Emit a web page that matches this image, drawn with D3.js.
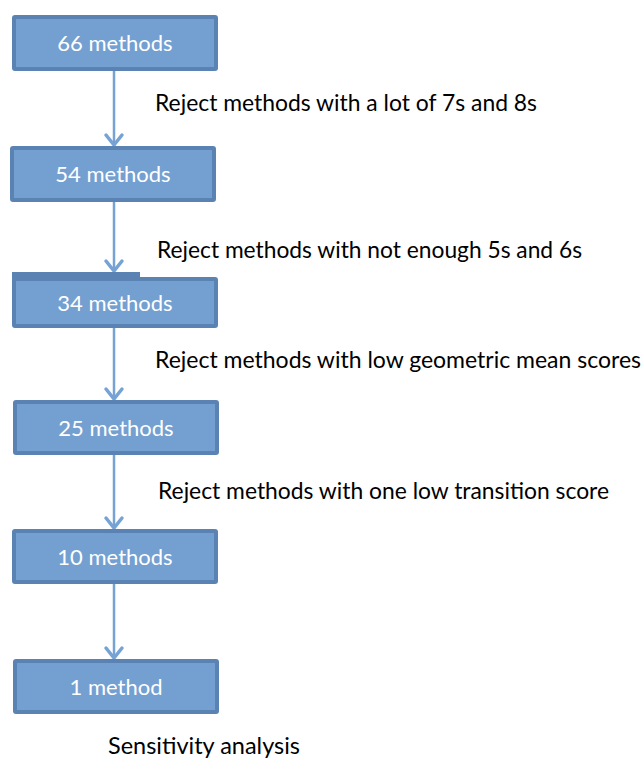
<!DOCTYPE html>
<html>
<head>
<meta charset="utf-8">
<script src="https://cdn.jsdelivr.net/npm/d3@7"></script>
<style>
  body { margin: 0; background: #fff; }
  svg { display: block; }
</style>
</head>
<body>
<svg width="643" height="760"></svg>
<script>
// steps of the selection funnel
const counts = [66, 54, 34, 25, 10, 1];
const boxLabels = ['66 methods', '54 methods', '34 methods', '25 methods', '10 methods', '1 method'];
const stepLabels = [
    'Reject methods with a lot of 7s and 8s',
    'Reject methods with not enough 5s and 6s',
    'Reject methods with low geometric mean scores',
    'Reject methods with one low transition score',
    'Sensitivity analysis'
];

const svg = d3.select('svg');
const fill = '#74a0d1', border = '#5a83b3', arrowColor = '#76a2d4';

const idx = d3.range(counts.length);
const boxTop = d3.scaleOrdinal().domain(idx).range([17, 148, 279, 402, 531, 661]);
const boxH = d3.scaleOrdinal().domain(idx).range([52, 52, 47, 51, 51, 51]);
const boxLeft = d3.scaleOrdinal().domain(idx).range([14, 12, 14, 15, 14, 15]);
const boxW = 202, cx = 114;

const labelX = d3.scaleOrdinal().domain(d3.range(stepLabels.length)).range([155, 157, 155, 158, 108]);
const labelY = d3.scaleOrdinal().domain(d3.range(stepLabels.length)).range([111, 258, 368, 499, 754]);
const labelW = d3.scaleOrdinal().domain(d3.range(stepLabels.length)).range([382, 425, 486, 451, 192]);

// arrows between boxes
const arrows = svg.append('g')
    .attr('stroke', arrowColor)
    .attr('stroke-width', 2.5)
    .attr('fill', 'none');

idx.slice(1).forEach(function (i) {
    const y0 = boxTop(i - 1) + boxH(i - 1) + 2,
        y1 = boxTop(i) - 3 - (i === 2 ? 5 : 0);
    arrows.append('line')
        .attr('x1', cx).attr('x2', cx)
        .attr('y1', y0).attr('y2', y1);
    arrows.append('path')
        .attr('stroke-width', 3.5)
        .attr('stroke-linecap', 'round')
        .attr('d', 'M' + (cx - 8) + ',' + (y1 - 10) + 'L' + cx + ',' + y1 + 'L' + (cx + 8) + ',' + (y1 - 10));
});

// boxes
const boxes = svg.append('g').selectAll('g')
    .data(idx)
    .enter().append('g');

boxes.append('rect')
    .attr('x', function (i) { return boxLeft(i); })
    .attr('y', function (i) { return boxTop(i); })
    .attr('width', boxW)
    .attr('height', function (i) { return boxH(i); })
    .attr('rx', 1)
    .attr('fill', fill)
    .attr('stroke', border)
    .attr('stroke-width', 4);

// the 34 box has a raised left part on its top edge
svg.append('rect')
    .attr('x', boxLeft(2) - 2).attr('y', boxTop(2) - 7)
    .attr('width', 128).attr('height', 7)
    .attr('fill', border);

boxes.append('text')
    .attr('x', function (i) { return boxLeft(i) + boxW / 2; })
    .attr('y', function (i) { return boxTop(i) + boxH(i) / 2 + 8; })
    .attr('text-anchor', 'middle')
    .attr('fill', '#ffffff')
    .attr('font-family', 'Lato, "Open Sans", sans-serif')
    .attr('font-size', 22)
    .text(function (i) { return boxLabels[i]; });

// step descriptions
svg.append('g').selectAll('text')
    .data(stepLabels)
    .enter().append('text')
    .attr('x', function (d, i) { return labelX(i); })
    .attr('y', function (d, i) { return labelY(i); })
    .attr('textLength', function (d, i) { return labelW(i); })
    .attr('lengthAdjust', 'spacingAndGlyphs')
    .attr('fill', '#000')
    .attr('font-family', 'Lato, "Open Sans", sans-serif')
    .attr('font-size', 23)
    .text(function (d) { return d; });
</script>
</body>
</html>
